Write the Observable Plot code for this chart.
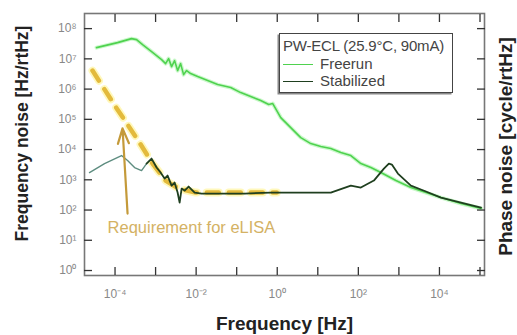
<!DOCTYPE html>
<html><head><meta charset="utf-8">
<script src="https://cdn.jsdelivr.net/npm/d3@7"></script>
<script src="https://cdn.jsdelivr.net/npm/@observablehq/plot@0.6"></script>
<style>
body{margin:0;background:#fff;font-family:"Liberation Sans",Arial,sans-serif;}
#wrap{position:relative;width:517px;height:335px;}
#legend{position:absolute;left:279px;top:33px;width:174px;height:60px;border:1.5px solid #444;box-shadow:-1.5px 1.5px 0 #888;background:#fff;font-size:15px;color:#444;box-sizing:border-box;}
#legend .t{position:absolute;left:3px;top:3px;white-space:nowrap;letter-spacing:-0.2px;}
#legend .row{position:absolute;left:3px;height:17px;white-space:nowrap;}
#legend .ln{position:absolute;left:0;top:9px;width:30px;height:0;}
#legend .lb{position:absolute;left:37px;top:0;}
</style></head>
<body><div id="wrap"></div>
<script>
// values are stored as log10 exponents
const freerunLogF = [-4.457,-3.938,-3.593,-3.469,-3.321,-3.099,-2.852,-2.753,-2.679,-2.605,-2.531,-2.457,-2.383,-2.309,-2.235,-2.136,-1.963,-1.716,-1.469,-1.148,-0.901,-0.654,-0.407,-0.210,-0.111,-0.012,0.086,0.210,0.333,0.580,0.827,1.074,1.321,1.568,1.815,2.062,2.309,2.556,2.926,3.296,3.667,4.037,4.531,5.025];
const freerunLogN = [7.372,7.537,7.669,7.636,7.471,7.240,6.975,6.843,7.008,6.744,6.942,6.612,6.843,6.479,6.612,6.512,6.413,6.281,6.149,6.050,5.884,5.752,5.620,5.488,5.521,5.289,5.058,4.893,4.727,4.397,4.198,4.099,4.033,3.901,3.802,3.537,3.405,3.240,2.975,2.744,2.579,2.413,2.215,2.050];
const stabLogF = [-4.630,-4.259,-3.840,-3.691,-3.519,-3.346,-3.222,-3.099,-2.975,-2.877,-2.778,-2.704,-2.605,-2.531,-2.457,-2.407,-2.358,-2.284,-2.185,-2.037,-1.864,-1.395,-0.802,-0.160,0.580,1.321,1.815,2.062,2.383,2.630,2.753,2.827,2.975,3.296,3.667,4.037,4.531,5.025];
const stabLogN = [3.240,3.537,3.802,3.636,3.405,3.306,3.537,3.702,3.405,3.240,3.041,3.140,2.810,2.909,2.579,2.248,2.711,2.645,2.777,2.579,2.545,2.545,2.545,2.579,2.579,2.579,2.810,2.744,2.975,3.372,3.537,3.504,3.207,2.810,2.612,2.413,2.248,2.083];
const reqLogF = [-4.556,-3.988,-3.444,-3.074,-2.753,-2.432,-2.012,-0.012];
const reqLogN = [6.612,5.421,4.331,3.537,2.975,2.711,2.579,2.579];
const arrowLogF = [-3.691,-3.815]; // tail, head
const arrowLogN = [1.884,4.700];
const reqLabel = "Requirement for eLISA";
const reqLabelLogF = -4.185, reqLabelLogN = 1.42;
const xTickExp = [-4,-3,-2,-1,0,1,2,3,4,5];
const xLabelExp = [-4,-2,0,2,4];
const yTickExp = [0,1,2,3,4,5,6,7,8];
const xTitle = "Frequency [Hz]";
const yTitle = "Frequency noise [Hz/rtHz]";
const y2Title = "Phase noise [cycle/rtHz]";
const legendTitle = "PW-ECL (25.9\u00B0C, 90mA)";
const seriesNames = ["Freerun","Stabilized"];
const seriesColors = ["#4fd24f","#1f3f1f"];

const p = v => 10 ** v;
const sup = {"-":"\u207B","0":"\u2070","1":"\u00B9","2":"\u00B2","3":"\u00B3","4":"\u2074","5":"\u2075","6":"\u2076","7":"\u2077","8":"\u2078","9":"\u2079"};
const fmt = d => "10" + String(Math.round(Math.log10(d))).split("").map(c => sup[c]).join("");

const freerun = freerunLogF.map((f,i)=>({f:p(f), n:p(freerunLogN[i])}));
const stab = stabLogF.map((f,i)=>({f:p(f), n:p(stabLogN[i]), seg: stabLogF[i] < -3.25 ? "a" : "b"}));
const req = reqLogF.map((f,i)=>({f:p(f), n:p(reqLogN[i])}));
const titleStyle = {fontWeight: "bold", fill: "#222", text: d => d, textAnchor: "middle", lineAnchor: "middle"};

const chart = Plot.plot({
  width: 517, height: 335,
  marginTop: 13, marginRight: 33, marginBottom: 60, marginLeft: 84,
  style: {fontFamily: '"Liberation Sans", Arial, sans-serif', background: "#fff"},
  x: {type: "log", domain: [p(-4.753), p(5.111)]},
  y: {type: "log", domain: [p(-0.165), p(8.5)]},
  marks: [
    Plot.frame({stroke: "#777", strokeWidth: 1.6}),
    Plot.line(req, {x: "f", y: "n", stroke: "#fff27a", strokeWidth: 8, strokeOpacity: 0.5, strokeDasharray: "12,10"}),
    Plot.line(req, {x: "f", y: "n", stroke: "#e3ba3c", strokeWidth: 4.5, strokeDasharray: "12,10"}),
    Plot.line(freerun, {x: "f", y: "n", stroke: "#8ef08e", strokeWidth: 4, strokeOpacity: 0.45}),
    Plot.line(freerun, {x: "f", y: "n", stroke: seriesColors[0], strokeWidth: 1.6}),
    Plot.line(stab.filter(d=>d.seg==="a").concat([stab.find(d=>d.seg==="b")]), {x: "f", y: "n", stroke: "#5e8d80", strokeWidth: 1.4}),
    Plot.line(stab.filter(d=>d.seg==="b"), {x: "f", y: "n", stroke: seriesColors[1], strokeWidth: 1.8}),
    Plot.arrow([0], {x1: p(arrowLogF[0]), y1: p(arrowLogN[0]), x2: p(arrowLogF[1]), y2: p(arrowLogN[1]), stroke: "#c49a3a", strokeWidth: 2.2, headLength: 11, headAngle: 40}),
    Plot.text([reqLabel], {x: p(reqLabelLogF), y: p(reqLabelLogN), text: d => d, textAnchor: "start", fill: "#d4b264", fontSize: 16.5}),
    Plot.axisX({anchor: "bottom", ticks: xTickExp.map(p), tickSize: -8, tickPadding: 22, tickFormat: () => "", stroke: "#333", strokeWidth: 1.3, label: null}),
    Plot.axisX({anchor: "bottom", ticks: xLabelExp.map(p), tickSize: 0, tickPadding: 14, tickFormat: fmt, fill: "#888", fontSize: 12, label: null}),
    Plot.axisX({anchor: "top", ticks: xTickExp.map(p), tickSize: -8, tickPadding: 0, tickFormat: () => "", stroke: "#333", strokeWidth: 1.3, label: null}),
    Plot.axisY({anchor: "left", ticks: yTickExp.map(p), tickSize: -8, tickPadding: 16, tickFormat: fmt, stroke: "#333", strokeWidth: 1.3, fill: "#888", fontSize: 12, label: null}),
    Plot.axisY({anchor: "right", ticks: yTickExp.map(p), tickSize: -8, tickPadding: 0, tickFormat: () => "", stroke: "#333", strokeWidth: 1.3, label: null}),
    Plot.text([xTitle], {...titleStyle, frameAnchor: "bottom", dy: 48, fontSize: 19}),
    Plot.text([yTitle], {...titleStyle, frameAnchor: "left", rotate: -90, dx: -62.5, dy: -11, fontSize: 17.5}),
    Plot.text([y2Title], {...titleStyle, frameAnchor: "right", rotate: -90, dx: 21, dy: 2, fontSize: 19})
  ]
});
const wrap = document.getElementById("wrap");
wrap.appendChild(chart);
const lg = document.createElement("div");
lg.id = "legend";
lg.innerHTML = `<div class="t">${legendTitle}</div>` + seriesNames.map((s,i)=>
  `<div class="row" style="top:${21+i*17}px;width:160px"><div class="ln" style="border-top:${i?1.8:1.6}px solid ${seriesColors[i]}"></div><div class="lb">${s}</div></div>`).join("");
wrap.appendChild(lg);
</script></body></html>
